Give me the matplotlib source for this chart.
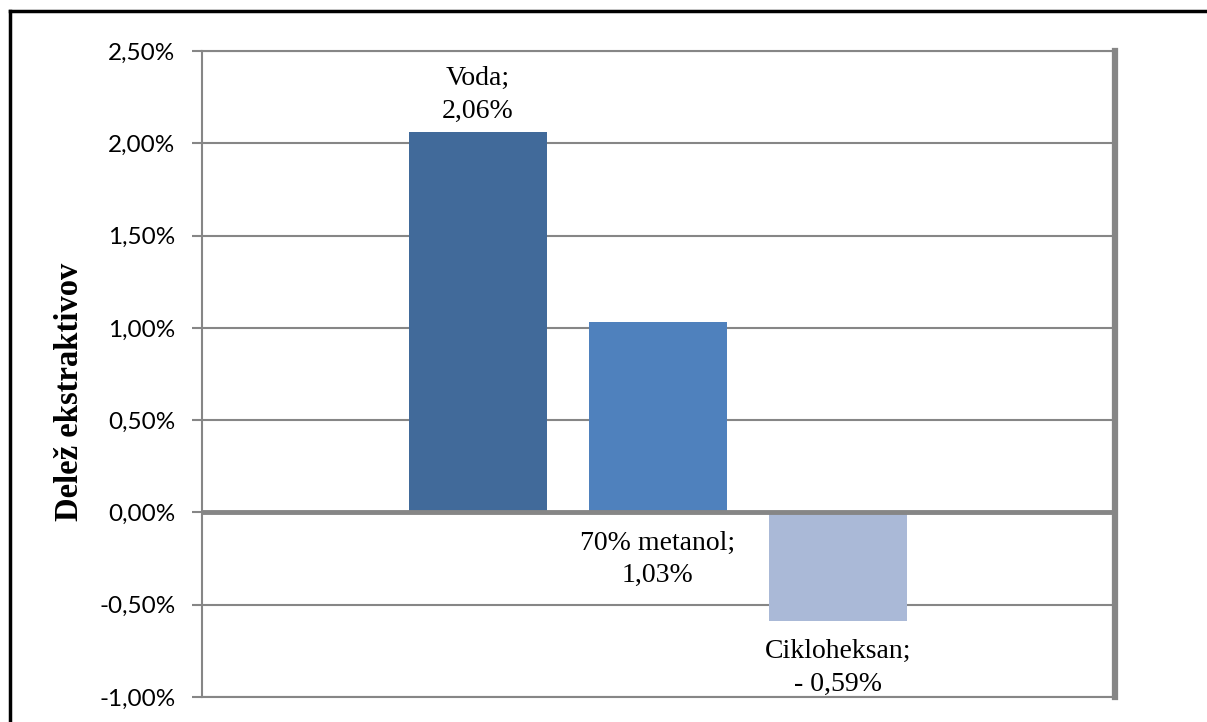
import matplotlib
matplotlib.use('Agg')
from matplotlib import pyplot as plt
from matplotlib.lines import Line2D
from matplotlib.ticker import FuncFormatter

# data
names = ['Voda', '70% metanol', 'Cikloheksan']
values = [2.06, 1.03, -0.59]
value_labels = ['2,06%', '1,03%', '- 0,59%']
colors = ['#416A9A', '#4F81BD', '#AAB9D7']
yticks = [-1.0, -0.5, 0.0, 0.5, 1.0, 1.5, 2.0, 2.5]

grey = '#868686'
serif = ['Liberation Serif', 'DejaVu Serif']

fig = plt.figure(figsize=(12.07, 7.22), dpi=100)
W, H = 1207, 722
ax = fig.add_axes([202 / W, (H - 697) / H, (1115 - 202) / W, (697 - 51) / H])

x = list(range(len(values)))
ax.bar(x, values, width=0.767, color=colors, zorder=3)

ax.set_xlim(-1.533, 3.539)
ax.set_ylim(-1.0, 2.5)
ax.set_yticks(yticks)
ax.yaxis.set_major_formatter(FuncFormatter(lambda v, p: f'{v:.2f}%'.replace('.', ',')))
ax.set_xticks([])
ax.grid(axis='y', color=grey, linewidth=1.5, zorder=0)
ax.axhline(0, color=grey, linewidth=3.5, zorder=4)

for side in ['left', 'top', 'bottom']:
    ax.spines[side].set_color(grey)
    ax.spines[side].set_linewidth(1.5)
ax.spines['right'].set_color(grey)
ax.spines['right'].set_linewidth(4.5)

ax.tick_params(axis='y', length=7, width=1.5, color=grey, pad=12)
for lab in ax.get_yticklabels():
    lab.set_fontfamily(['Lato', 'DejaVu Sans'])
    lab.set_fontsize(17.5)

ax.set_ylabel('Delež ekstraktivov', family=serif, fontweight='bold', fontsize=23.5)
ax.yaxis.set_label_coords(-0.128, 0.472)

# data labels
for i, (n, v, t) in enumerate(zip(names, values, value_labels)):
    text = f'{n};\n{t}'
    kw = dict(textcoords='offset points', ha='center', family=serif, fontsize=20, linespacing=1.4)
    if v > 1.5:
        ax.annotate(text, (i, v), xytext=(0, 6), va='bottom', **kw)
    elif v > 0:
        ax.annotate(text, (i, 0), xytext=(0, -13), va='top', **kw)
    else:
        ax.annotate(text, (i, v), xytext=(0, -13), va='top', **kw)

# outer frame (only left and top visible in the reference)
fig.add_artist(Line2D([9.5 / W, 9.5 / W], [0, 1 - 10.5 / H], color='black', linewidth=2.5))
fig.add_artist(Line2D([9.5 / W, 1], [1 - 10.5 / H, 1 - 10.5 / H], color='black', linewidth=2.5))

plt.savefig('out.png', dpi=100)
